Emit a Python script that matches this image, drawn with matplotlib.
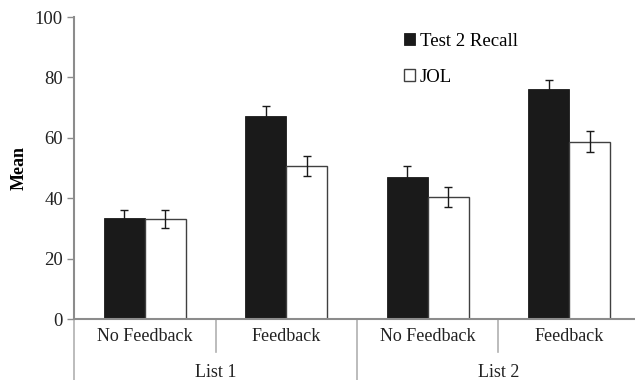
import matplotlib
matplotlib.use("Agg")
import matplotlib.pyplot as plt
import numpy as np

plt.rcParams['font.family'] = ['Liberation Serif', 'DejaVu Serif']

conditions = ["No Feedback", "Feedback", "No Feedback", "Feedback"]
lists = ["List 1", "List 2"]
series_names = ["Test 2 Recall", "JOL"]
recall = [33.4, 67.2, 46.9, 76.1]
recall_err = [2.8, 3.3, 3.8, 3.0]
jol = [33.1, 50.6, 40.5, 58.7]
jol_err = [3.0, 3.3, 3.3, 3.4]
yticks = [0, 20, 40, 60, 80, 100]

W, H = 635, 380
fig = plt.figure(figsize=(W / 100, H / 100), dpi=100)
ax = fig.add_axes([74 / W, (H - 319) / H, 561 / W, 302 / H])

x = np.arange(len(conditions))
bw = 0.29
gray = "#8c8c8c"
ekw = dict(ecolor="#1a1a1a", elinewidth=1.0, capsize=3, capthick=1.0)
b1 = ax.bar(x - bw / 2, recall, bw, color="#1a1a1a", edgecolor="#1a1a1a",
            linewidth=0.6, yerr=recall_err, error_kw=ekw, label=series_names[0])
b2 = ax.bar(x + bw / 2, jol, bw, color="white", edgecolor="#404040",
            linewidth=1.0, yerr=jol_err, error_kw=ekw, label=series_names[1])

ax.set_xlim(-0.5, -0.5 + 561 / 141.5)
ax.set_ylim(0, 100)
ax.set_yticks(yticks)
ax.set_yticklabels([str(t) for t in yticks], fontsize=13.5, color="#222222")
ax.tick_params(axis='y', length=5, width=1, color=gray, pad=3)
ax.set_xticks([])

for s in ["top", "right"]:
    ax.spines[s].set_visible(False)
for s in ["left", "bottom"]:
    ax.spines[s].set_color(gray)
    ax.spines[s].set_linewidth(1.5)

ax.set_ylabel("Mean", fontsize=13, fontweight="bold", labelpad=5)

tr = ax.get_xaxis_transform()
# separators between conditions within lists
for sx in [0.5, 2.5]:
    ax.plot([sx, sx], [0, -0.11], transform=tr, color="#b0b0b0", lw=1.2, clip_on=False)
# separators between lists
for sx in [-0.5, 1.5]:
    ax.plot([sx, sx], [0, -0.21], transform=tr, color="#b0b0b0", lw=1.2, clip_on=False)

for xi, c in zip(x, conditions):
    ax.text(xi, -0.058, c, transform=tr, ha="center", va="center", fontsize=13, color="#222222")
for i, l in enumerate(lists):
    ax.text(2 * i + 0.5, -0.178, l, transform=tr, ha="center", va="center", fontsize=13, color="#222222")

ax.legend(handles=[b1, b2], labels=series_names, loc="upper left",
          bbox_to_anchor=((404 - 74) / 561, (319 - 33) / 302), frameon=False,
          fontsize=13.5, handlelength=0.6, handleheight=0.6, handletextpad=0.25,
          labelspacing=1.0, borderpad=0, borderaxespad=0)

fig.savefig("out.png", dpi=100)
